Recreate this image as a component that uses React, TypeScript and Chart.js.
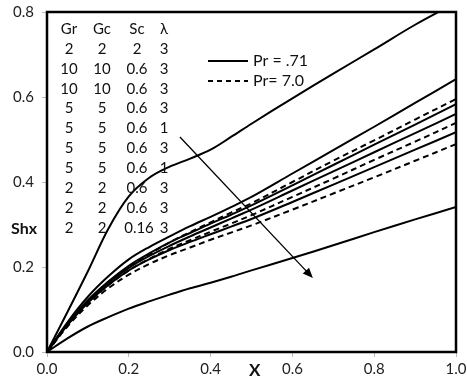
import React, { useEffect, useRef } from "react";
import { Chart, registerables } from "chart.js";

Chart.register(...registerables);

const xs = [0, 0.05, 0.1, 0.15, 0.2, 0.25, 0.3, 0.35, 0.4, 0.45, 0.5, 0.6, 0.7, 0.8, 0.9, 1.0];

const s1 = [0, 0.094, 0.19, 0.29, 0.366, 0.41, 0.436, 0.455, 0.476, 0.506, 0.537, 0.597, 0.655, 0.712, 0.77, 0.822];
const s2 = [0, 0.07, 0.13, 0.178, 0.218, 0.247, 0.272, 0.296, 0.318, 0.341, 0.365, 0.42, 0.475, 0.53, 0.586, 0.642];
const d1 = [0, 0.065, 0.12, 0.165, 0.2, 0.23, 0.258, 0.282, 0.305, 0.328, 0.35, 0.4, 0.45, 0.498, 0.547, 0.595];
const s3 = [0, 0.066, 0.122, 0.166, 0.203, 0.232, 0.258, 0.28, 0.302, 0.323, 0.345, 0.392, 0.44, 0.488, 0.535, 0.583];
const s4 = [0, 0.065, 0.12, 0.163, 0.198, 0.226, 0.25, 0.272, 0.293, 0.314, 0.335, 0.38, 0.425, 0.47, 0.515, 0.56];
const d2 = [0, 0.062, 0.115, 0.157, 0.192, 0.219, 0.243, 0.263, 0.283, 0.302, 0.322, 0.365, 0.408, 0.452, 0.495, 0.539];
const s5 = [0, 0.063, 0.116, 0.158, 0.192, 0.218, 0.24, 0.259, 0.277, 0.295, 0.313, 0.353, 0.394, 0.435, 0.476, 0.517];
const d3 = [0, 0.06, 0.11, 0.15, 0.182, 0.207, 0.228, 0.246, 0.264, 0.281, 0.298, 0.335, 0.373, 0.411, 0.45, 0.489];
const s6 = [0, 0.032, 0.06, 0.082, 0.102, 0.119, 0.135, 0.15, 0.163, 0.177, 0.192, 0.221, 0.251, 0.282, 0.312, 0.341];

const solidSeries = [s1, s2, s3, s4, s5, s6];
const dashedSeries = [d1, d2, d3];

const tableHeader = ["Gr", "Gc", "Sc", "λ"];
const grVals = ["2", "10", "10", "5", "5", "5", "5", "2", "2", "2"];
const gcVals = ["2", "10", "10", "5", "5", "5", "5", "2", "2", "2"];
const scVals = ["2", "0.6", "0.6", "0.6", "0.6", "0.6", "0.6", "0.6", "0.6", "0.16"];
const lambdaVals = ["3", "3", "3", "3", "1", "3", "1", "3", "3", "3"];

const legendLabels = ["Pr = .71", "Pr= 7.0"];
const arrowFrom = { x: 0.325, y: 0.506 };
const arrowTo = { x: 0.65, y: 0.174 };

const FONT = "Lato, 'Open Sans', sans-serif";

const overlay = {
  id: "overlay",
  afterDatasetsDraw(chart: any) {
    const ctx = chart.ctx;
    const ca = chart.chartArea;
    const xs_ = chart.scales.x;
    const ys_ = chart.scales.y;
    ctx.save();
    // frame
    ctx.strokeStyle = "#000";
    ctx.lineWidth = 2.5;
    ctx.strokeRect(ca.left, ca.top, ca.right - ca.left, ca.bottom - ca.top);

    // table
    ctx.fillStyle = "#111";
    ctx.font = `15px ${FONT}`;
    ctx.textAlign = "center";
    ctx.textBaseline = "middle";
    const cols = [ca.left + 22, ca.left + 55, ca.left + 90, ca.left + 117];
    const rowY = (i: number) => ca.top + 17 + i * 19.9;
    tableHeader.forEach((h, j) => ctx.fillText(h, cols[j], rowY(0)));
    const columns = [grVals, gcVals, scVals, lambdaVals];
    for (let i = 0; i < grVals.length; i++) {
      columns.forEach((col, j) => {
        let x = cols[j];
        if (j === 2 && col[i].length > 3) x += 2;
        ctx.fillText(col[i], x, rowY(i + 1));
      });
    }

    // legend
    const lx0 = ca.left + 161;
    const lx1 = ca.left + 201;
    const ly = [ca.top + 49, ca.top + 69];
    ctx.lineWidth = 2;
    ctx.strokeStyle = "#000";
    ctx.setLineDash([]);
    ctx.beginPath();
    ctx.moveTo(lx0, ly[0]);
    ctx.lineTo(lx1, ly[0]);
    ctx.stroke();
    ctx.setLineDash([5, 4]);
    ctx.beginPath();
    ctx.moveTo(lx0, ly[1]);
    ctx.lineTo(lx1, ly[1]);
    ctx.stroke();
    ctx.setLineDash([]);
    ctx.textAlign = "left";
    ctx.font = `16px ${FONT}`;
    ctx.fillText(legendLabels[0], lx1 + 5, ly[0]);
    ctx.fillText(legendLabels[1], lx1 + 5, ly[1]);

    // arrow
    const ax0 = xs_.getPixelForValue(arrowFrom.x);
    const ay0 = ys_.getPixelForValue(arrowFrom.y);
    const ax1 = xs_.getPixelForValue(arrowTo.x);
    const ay1 = ys_.getPixelForValue(arrowTo.y);
    const ang = Math.atan2(ay1 - ay0, ax1 - ax0);
    const hl = 11;
    ctx.lineWidth = 1.3;
    ctx.beginPath();
    ctx.moveTo(ax0, ay0);
    ctx.lineTo(ax1 - Math.cos(ang) * hl * 0.8, ay1 - Math.sin(ang) * hl * 0.8);
    ctx.stroke();
    ctx.fillStyle = "#000";
    ctx.beginPath();
    ctx.moveTo(ax1, ay1);
    ctx.lineTo(ax1 - hl * Math.cos(ang - 0.4), ay1 - hl * Math.sin(ang - 0.4));
    ctx.lineTo(ax1 - hl * Math.cos(ang + 0.4), ay1 - hl * Math.sin(ang + 0.4));
    ctx.closePath();
    ctx.fill();

    // axis titles
    ctx.fillStyle = "#111";
    ctx.font = `bold 16px ${FONT}`;
    ctx.textAlign = "center";
    ctx.textBaseline = "middle";
    ctx.fillText("Shx", 24, ys_.getPixelForValue(0.29));
    ctx.font = `bold 17px ${FONT}`;
    ctx.fillText("X", xs_.getPixelForValue(0.508), ca.bottom + 19);
    ctx.restore();
  },
};

export default function App() {
  const ref = useRef<HTMLCanvasElement | null>(null);
  useEffect(() => {
    document.body.style.margin = "0";
    const datasets: any[] = [];
    solidSeries.forEach((s) =>
      datasets.push({
        data: xs.map((x, i) => ({ x, y: s[i] })),
        borderColor: "#000",
        borderWidth: 2,
        pointRadius: 0,
        fill: false,
        tension: 0.35,
      })
    );
    dashedSeries.forEach((s) =>
      datasets.push({
        data: xs.map((x, i) => ({ x, y: s[i] })),
        borderColor: "#000",
        borderWidth: 2,
        borderDash: [6, 4],
        pointRadius: 0,
        fill: false,
        tension: 0.35,
      })
    );
    const chart = new Chart(ref.current as HTMLCanvasElement, {
      type: "line",
      data: { datasets },
      options: {
        animation: false,
        responsive: false,
        layout: { padding: { top: 12, right: 11, left: 0, bottom: 0 } },
        plugins: { legend: { display: false }, tooltip: { enabled: false } },
        scales: {
          x: {
            type: "linear",
            min: 0,
            max: 1,
            ticks: {
              stepSize: 0.2,
              color: "#222",
              font: { family: FONT, size: 15 },
              padding: 3,
              callback: (v: any) => Number(v).toFixed(1),
            },
            grid: { drawOnChartArea: false, tickLength: 5, color: "#bbb" },
            border: { display: false },
            afterFit: (s: any) => {
              s.height = 34;
              s.paddingLeft = 0;
              s.paddingRight = 0;
            },
          },
          y: {
            type: "linear",
            min: 0,
            max: 0.8,
            ticks: {
              stepSize: 0.2,
              color: "#222",
              font: { family: FONT, size: 15 },
              padding: 8,
              callback: (v: any) => Number(v).toFixed(1),
            },
            grid: { drawOnChartArea: false, tickLength: 5, color: "#bbb" },
            border: { display: false },
            afterFit: (s: any) => {
              s.width = 47;
              s.paddingTop = 0;
              s.paddingBottom = 0;
            },
          },
        },
      },
      plugins: [overlay],
    });
    return () => chart.destroy();
  }, []);
  return (
    <div style={{ position: "absolute", left: 0, top: 0, width: 467, height: 386, background: "#fff" }}>
      <canvas ref={ref} width={467} height={386} />
    </div>
  );
}
